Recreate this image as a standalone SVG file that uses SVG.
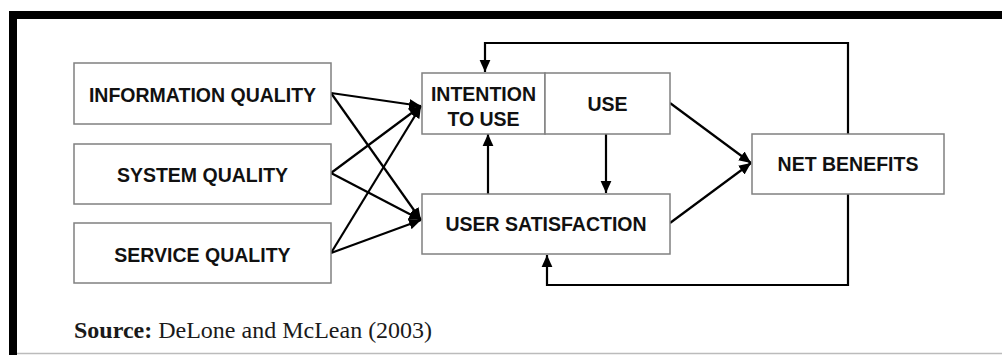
<svg xmlns="http://www.w3.org/2000/svg" width="1002" height="355" viewBox="0 0 1002 355">
<style>
.box{fill:#fff;stroke:#808080;stroke-width:1.5}
.lbl{font-family:"Liberation Sans",Arial,sans-serif;font-weight:bold;font-size:19.5px;fill:#111;text-anchor:middle}
.c{fill:none;stroke:#000;stroke-width:2.2}
.src{font-family:"Liberation Serif","Times New Roman",serif;font-size:24px;fill:#1a1a1a}
</style>
<defs>
<marker id="a" viewBox="0 0 10 10" refX="10" refY="5" markerWidth="12" markerHeight="12" markerUnits="userSpaceOnUse" orient="auto">
<path d="M0,0.5 L10,5 L0,9.5 Z" fill="#000"/>
</marker>
</defs>
<rect x="0" y="0" width="1002" height="355" fill="#fff"/>
<rect x="9" y="11" width="993" height="8" fill="#000"/>
<rect x="9" y="11" width="8" height="344" fill="#000"/>
<line x1="17" y1="353.5" x2="1002" y2="353.5" stroke="#bbb" stroke-width="1.5"/>

<g id="connectors">
<line class="c" x1="331" y1="93" x2="421" y2="106" marker-end="url(#a)"/>
<line class="c" x1="331" y1="93" x2="421" y2="220" marker-end="url(#a)"/>
<line class="c" x1="331" y1="173" x2="421" y2="106" marker-end="url(#a)"/>
<line class="c" x1="331" y1="173" x2="421" y2="220" marker-end="url(#a)"/>
<line class="c" x1="331" y1="253" x2="421" y2="106" marker-end="url(#a)"/>
<line class="c" x1="331" y1="253" x2="421" y2="220" marker-end="url(#a)"/>
<line class="c" x1="606" y1="134" x2="606" y2="193" marker-end="url(#a)"/>
<line class="c" x1="488" y1="194" x2="488" y2="134" marker-end="url(#a)"/>
<line class="c" x1="670" y1="103" x2="751" y2="163" marker-end="url(#a)"/>
<line class="c" x1="670" y1="223" x2="751" y2="163" marker-end="url(#a)"/>
<polyline class="c" points="848,134 848,43 485,43 485,72" marker-end="url(#a)"/>
<polyline class="c" points="848,194 848,285 547,285 547,255" marker-end="url(#a)"/>
</g>

<g id="information-quality">
<rect class="box" x="74" y="63" width="257" height="61"/>
<text class="lbl" x="202.5" y="102">INFORMATION QUALITY</text>
</g>
<g id="system-quality">
<rect class="box" x="74" y="144" width="257" height="60"/>
<text class="lbl" x="202.5" y="181.5">SYSTEM QUALITY</text>
</g>
<g id="service-quality">
<rect class="box" x="74" y="223" width="257" height="60"/>
<text class="lbl" x="202.5" y="261.5">SERVICE QUALITY</text>
</g>
<g id="intention-to-use">
<rect class="box" x="422" y="73" width="123" height="61"/>
<text class="lbl" x="483.5" y="101">INTENTION</text>
<text class="lbl" x="483.5" y="126">TO USE</text>
</g>
<g id="use">
<rect class="box" x="545" y="73" width="125" height="61"/>
<text class="lbl" x="607.5" y="111">USE</text>
</g>
<g id="user-satisfaction">
<rect class="box" x="422" y="194" width="248" height="60"/>
<text class="lbl" x="546" y="231">USER SATISFACTION</text>
</g>
<g id="net-benefits">
<rect class="box" x="752" y="134" width="192" height="60"/>
<text class="lbl" x="848" y="171">NET BENEFITS</text>
</g>

<text class="src" x="74" y="337.5"><tspan font-weight="bold">Source:</tspan> DeLone and McLean (2003)</text>
</svg>
